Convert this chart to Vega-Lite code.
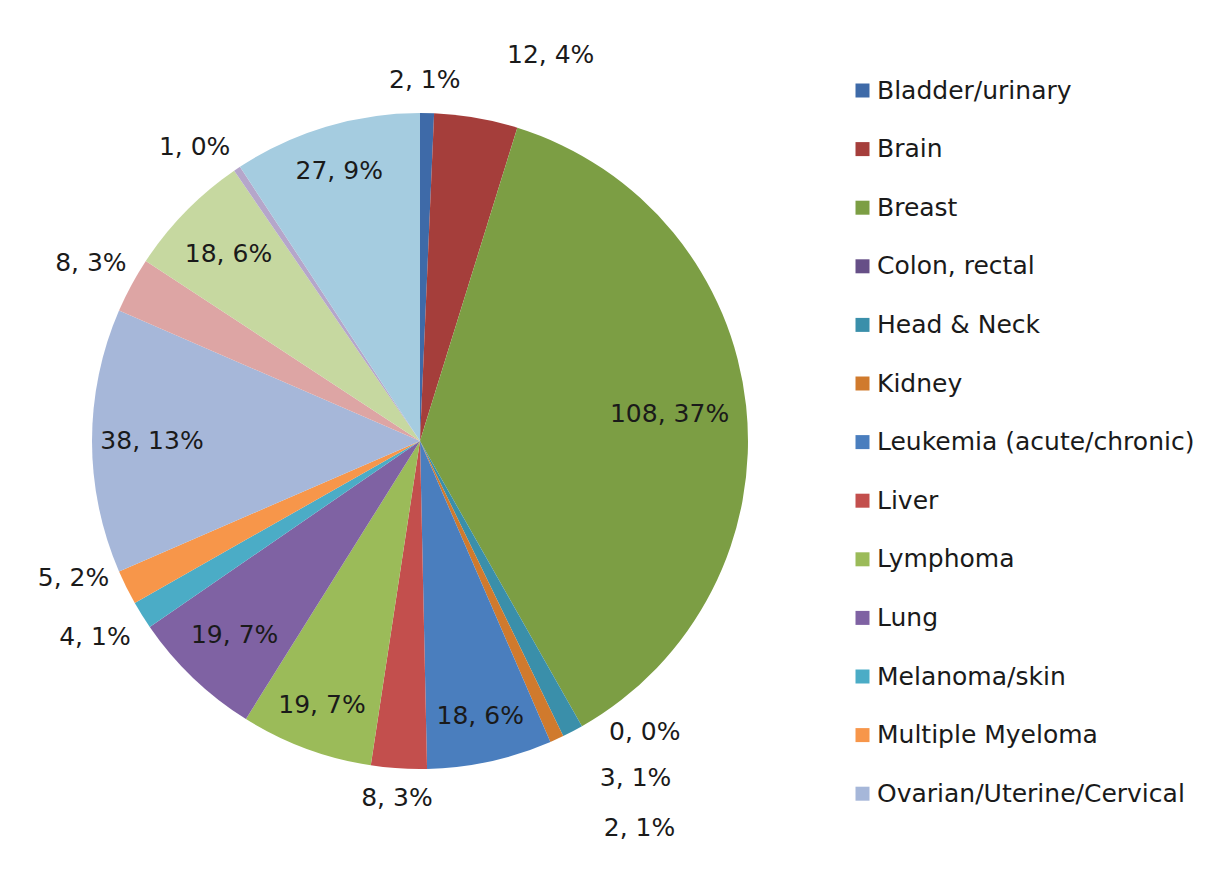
{
  "$schema": "https://vega.github.io/schema/vega-lite/v6.json",
  "width": 830,
  "height": 858,
  "padding": {"left": 5, "top": 12, "right": 0, "bottom": 0},
  "background": "white",
  "config": {
    "view": {"stroke": null},
    "text": {"font": "DejaVu Sans", "fontSize": 25, "fill": "#1a1a1a"},
    "legend": {
      "orient": "none",
      "legendX": 845,
      "legendY": 66,
      "padding": 0,
      "labelFont": "DejaVu Sans",
      "labelFontSize": 25,
      "labelColor": "#1a1a1a",
      "labelLimit": 500,
      "labelOffset": 2,
      "symbolType": "square",
      "symbolSize": 196,
      "symbolStrokeWidth": 0,
      "rowPadding": 32.6
    }
  },
  "data": {
    "values": [
      {"ord": 1, "cat": "Bladder/urinary", "value": 2, "label": "2, 1%"},
      {"ord": 2, "cat": "Brain", "value": 12, "label": "12, 4%"},
      {"ord": 3, "cat": "Breast", "value": 108, "label": "108, 37%"},
      {"ord": 4, "cat": "Colon, rectal", "value": 0, "label": "0, 0%"},
      {"ord": 5, "cat": "Head & Neck", "value": 3, "label": "3, 1%"},
      {"ord": 6, "cat": "Kidney", "value": 2, "label": "2, 1%"},
      {"ord": 7, "cat": "Leukemia (acute/chronic)", "value": 18, "label": "18, 6%"},
      {"ord": 8, "cat": "Liver", "value": 8, "label": "8, 3%"},
      {"ord": 9, "cat": "Lymphoma", "value": 19, "label": "19, 7%"},
      {"ord": 10, "cat": "Lung", "value": 19, "label": "19, 7%"},
      {"ord": 11, "cat": "Melanoma/skin", "value": 4, "label": "4, 1%"},
      {"ord": 12, "cat": "Multiple Myeloma", "value": 5, "label": "5, 2%"},
      {"ord": 13, "cat": "Ovarian/Uterine/Cervical", "value": 38, "label": "38, 13%"},
      {"ord": 14, "cat": "Pancreatic", "value": 8, "label": "8, 3%"},
      {"ord": 15, "cat": "Prostate", "value": 18, "label": "18, 6%"},
      {"ord": 16, "cat": "Stomach", "value": 1, "label": "1, 0%"},
      {"ord": 17, "cat": "Other", "value": 27, "label": "27, 9%"}
    ]
  },
  "encoding": {
    "theta": {"field": "value", "type": "quantitative", "stack": true},
    "order": {"field": "ord", "type": "quantitative"}
  },
  "layer": [
    {
      "mark": {"type": "arc", "radius": 328},
      "encoding": {
        "color": {
          "field": "cat",
          "type": "nominal",
          "sort": null,
          "scale": {
            "domain": ["Bladder/urinary", "Brain", "Breast", "Colon, rectal", "Head & Neck", "Kidney", "Leukemia (acute/chronic)", "Liver", "Lymphoma", "Lung", "Melanoma/skin", "Multiple Myeloma", "Ovarian/Uterine/Cervical", "Pancreatic", "Prostate", "Stomach", "Other"],
            "range": ["#3E6AA8", "#A53E3B", "#7C9E44", "#664F87", "#3A8FAA", "#D07A2D", "#4A7EBE", "#C34F4D", "#9BBB59", "#7F62A3", "#4BACC6", "#F7964A", "#A6B7D9", "#DDA5A4", "#C6D8A0", "#B5A6CA", "#A5CCE0"]
          },
          "legend": {
            "title": null,
            "values": ["Bladder/urinary", "Brain", "Breast", "Colon, rectal", "Head & Neck", "Kidney", "Leukemia (acute/chronic)", "Liver", "Lymphoma", "Lung", "Melanoma/skin", "Multiple Myeloma", "Ovarian/Uterine/Cervical"]
          }
        }
      }
    },
    {
      "mark": {"type": "text", "radius": 282},
      "encoding": {"text": {"condition": {"test": "indexof(['Lymphoma','Leukemia (acute/chronic)','Other'], datum.cat) >= 0", "field": "label"}, "value": ""}}
    },
    {
      "mark": {"type": "text", "radius": 268},
      "encoding": {"text": {"condition": {"test": "indexof(['Lung','Ovarian/Uterine/Cervical','Prostate'], datum.cat) >= 0", "field": "label"}, "value": ""}}
    },
    {
      "mark": {"type": "text", "radius": 251},
      "encoding": {"text": {"condition": {"test": "datum.cat === 'Breast'", "field": "label"}, "value": ""}}
    },
    {
      "mark": {"type": "text", "radius": 358},
      "encoding": {"text": {"condition": {"test": "datum.cat === 'Liver'", "field": "label"}, "value": ""}}
    },
    {
      "mark": {"type": "text", "radius": 374},
      "encoding": {"text": {"condition": {"test": "datum.cat === 'Pancreatic'", "field": "label"}, "value": ""}}
    },
    {
      "mark": {"type": "text", "radius": 361, "dx": -3},
      "encoding": {"text": {"condition": {"test": "datum.cat === 'Bladder/urinary'", "field": "label"}, "value": ""}}
    },
    {
      "mark": {"type": "text", "radius": 360, "dx": 69, "dy": -31},
      "encoding": {"text": {"condition": {"test": "datum.cat === 'Brain'", "field": "label"}, "value": ""}}
    },
    {
      "mark": {"type": "text", "radius": 368, "dx": 43, "dy": -29},
      "encoding": {"text": {"condition": {"test": "datum.cat === 'Colon, rectal'", "field": "label"}, "value": ""}}
    },
    {
      "mark": {"type": "text", "radius": 330, "dx": 62, "dy": 45},
      "encoding": {"text": {"condition": {"test": "datum.cat === 'Head & Neck'", "field": "label"}, "value": ""}}
    },
    {
      "mark": {"type": "text", "radius": 320, "dx": 86, "dy": 96},
      "encoding": {"text": {"condition": {"test": "datum.cat === 'Kidney'", "field": "label"}, "value": ""}}
    },
    {
      "mark": {"type": "text", "radius": 380, "dx": -3, "dy": -6},
      "encoding": {"text": {"condition": {"test": "datum.cat === 'Melanoma/skin'", "field": "label"}, "value": ""}}
    },
    {
      "mark": {"type": "text", "radius": 366, "dx": -19, "dy": -26},
      "encoding": {"text": {"condition": {"test": "datum.cat === 'Multiple Myeloma'", "field": "label"}, "value": ""}}
    },
    {
      "mark": {"type": "text", "radius": 370, "dx": -19, "dy": 13},
      "encoding": {"text": {"condition": {"test": "datum.cat === 'Stomach'", "field": "label"}, "value": ""}}
    }
  ]
}
